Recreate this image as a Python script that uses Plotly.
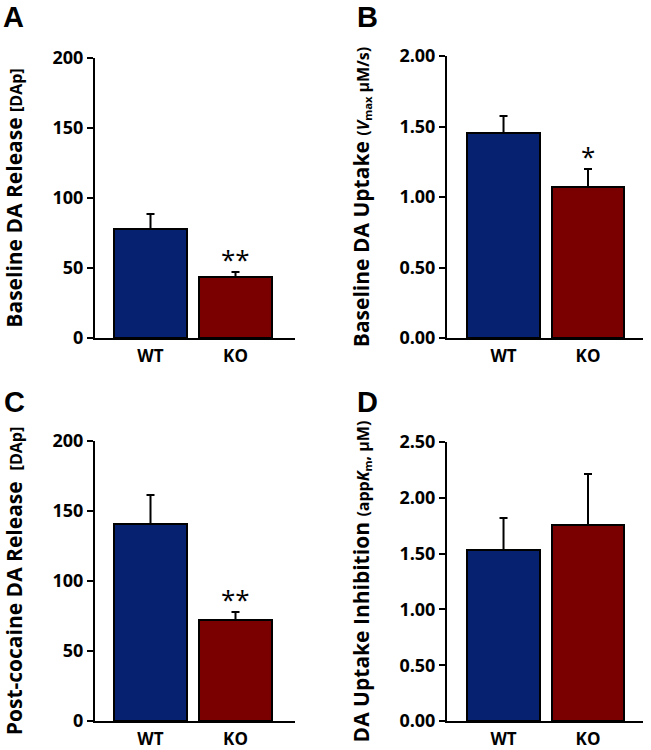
import plotly.graph_objects as go

groups = ["WT", "KO"]
colors = ["#062170", "#7a0000"]

release_base = [77.9, 43.6]
release_base_err = [10.7, 3.5]

uptake_base = [1.454, 1.071]
uptake_base_err = [0.120, 0.128]

release_coc = [140.7, 72.1]
release_coc_err = [20.7, 5.8]

uptake_inhib = [1.532, 1.756]
uptake_inhib_err = [0.287, 0.457]

stars_A = ["", "**"]
stars_B = ["", "*"]
stars_C = ["", "**"]
stars_D = ["", ""]

FONT = "Open Sans"
W, H = 651, 750


def px(x):
    return x / W


def py(y):
    return 1 - y / H


panels = [
    dict(vals=release_base, err=release_base_err, stars=stars_A, letter="A",
         xd=[px(95), px(295)], yd=[py(338), py(58)], yr=[0, 200], dt=50, fmt="d",
         xr=[-0.653, 1.70], lx=px(2), ly=py(0), so=34,
         title="Baseline DA Release <span style='font-size:16px'>[DAp]</span>"),
    dict(vals=uptake_base, err=uptake_base_err, stars=stars_B, letter="B",
         xd=[px(447), px(643)], yd=[py(338), py(56)], yr=[0, 2.0], dt=0.5, fmt=".2f",
         xr=[-0.669, 1.651], lx=px(356), ly=py(0), so=24,
         title="Baseline DA Uptake <span style='font-size:16px'>(<i>V</i><sub>max</sub> µM/s)</span>"),
    dict(vals=release_coc, err=release_coc_err, stars=stars_C, letter="C",
         xd=[px(95), px(295)], yd=[py(721), py(441)], yr=[0, 200], dt=50, fmt="d",
         xr=[-0.653, 1.70], lx=px(3), ly=py(385), so=34,
         title="Post-cocaine DA Release  <span style='font-size:16px'>[DAp]</span>"),
    dict(vals=uptake_inhib, err=uptake_inhib_err, stars=stars_D, letter="D",
         xd=[px(447), px(643)], yd=[py(721), py(442)], yr=[0, 2.5], dt=0.5, fmt=".2f",
         xr=[-0.669, 1.651], lx=px(356), ly=py(385), so=24,
         title="DA Uptake Inhibition <span style='font-size:16px'>(app<i>K</i><sub>m</sub>, µM)</span>"),
]

fig = go.Figure()
annotations = []
layout = {}
for i, p in enumerate(panels):
    n = "" if i == 0 else str(i + 1)
    xa, ya = "x" + n, "y" + n
    fig.add_trace(go.Bar(
        x=groups, y=p["vals"], xaxis=xa, yaxis=ya, width=0.86,
        marker=dict(color=colors, line=dict(color="black", width=2)),
        error_y=dict(type="data", array=p["err"], arrayminus=[0, 0], symmetric=False,
                     color="black", thickness=2, width=4),
        showlegend=False, hoverinfo="skip"))
    layout["xaxis" + n] = dict(
        domain=p["xd"], anchor=ya, range=p["xr"], type="category", automargin=False,
        showline=True, linecolor="black", linewidth=2, ticks="", showgrid=False,
        zeroline=False, ticklabelstandoff=2,
        tickfont=dict(family=FONT, size=17, color="black", weight="bold"),
        fixedrange=True)
    layout["yaxis" + n] = dict(
        domain=p["yd"], anchor=xa, range=p["yr"], dtick=p["dt"], tickformat=p["fmt"],
        automargin=False,
        showline=True, linecolor="black", linewidth=2, ticks="outside", ticklen=6,
        tickwidth=2, tickcolor="black", showgrid=False, zeroline=False,
        tickfont=dict(family=FONT, size=18, color="black", weight="bold"),
        title=dict(text=p["title"], standoff=p["so"],
                   font=dict(family=FONT, size=21, color="black", weight="bold")),
        fixedrange=True)
    for g, v, e, s in zip(groups, p["vals"], p["err"], p["stars"]):
        if s:
            annotations.append(dict(x=g, y=v + e, xref=xa, yref=ya, text=s,
                                    showarrow=False, yanchor="bottom", yshift=-7,
                                    font=dict(family=FONT, size=26, color="black")))
    annotations.append(dict(x=p["lx"], y=p["ly"], xref="paper", yref="paper",
                            xanchor="left", yanchor="top", text=p["letter"], showarrow=False,
                            borderpad=0,
                            font=dict(family="Liberation Sans", size=29, color="black",
                                      weight="bold")))

fig.update_layout(**layout)
fig.update_layout(width=W, height=H, margin=dict(l=0, r=0, t=0, b=0),
                  paper_bgcolor="white", plot_bgcolor="white", annotations=annotations,
                  bargap=0)
# remove the browser's default 8px page margin so the figure fills the window exactly
fig.write_html("out.html", config={"displayModeBar": False},
               post_script="document.body.style.margin='0';")
